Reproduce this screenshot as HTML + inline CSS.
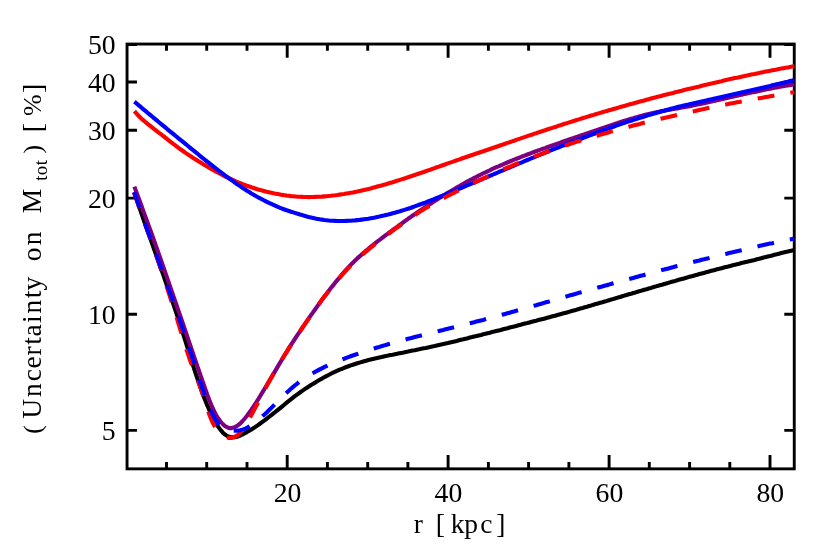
<!DOCTYPE html>
<html>
<head>
<meta charset="utf-8">
<title>Uncertainty on M_tot vs r</title>
<style>
html,body{margin:0;padding:0;background:#fff;}
body{width:830px;height:554px;overflow:hidden;font-family:"Liberation Serif",serif;}
svg{display:block;will-change:transform;}
text{font-family:"Liberation Serif",serif;fill:#000;}
</style>
</head>
<body>
<svg width="830" height="554" viewBox="0 0 830 554">
<rect x="0" y="0" width="830" height="554" fill="#ffffff"/>
<!-- frame + ticks -->
<g fill="none" stroke="#000" stroke-width="2.9" stroke-linecap="butt">
<rect x="127.05" y="44.05" width="667.2" height="424.8"/>
<path d="M166.5,468.9 v-6.8 M166.5,44.05 v6.8 M206.7,468.9 v-6.8 M206.7,44.05 v6.8 M247.0,468.9 v-6.8 M247.0,44.05 v6.8 M287.2,468.9 v-13.8 M287.2,44.05 v13.8 M327.4,468.9 v-6.8 M327.4,44.05 v6.8 M367.7,468.9 v-6.8 M367.7,44.05 v6.8 M407.9,468.9 v-6.8 M407.9,44.05 v6.8 M448.1,468.9 v-13.8 M448.1,44.05 v13.8 M488.4,468.9 v-6.8 M488.4,44.05 v6.8 M528.6,468.9 v-6.8 M528.6,44.05 v6.8 M568.9,468.9 v-6.8 M568.9,44.05 v6.8 M609.1,468.9 v-13.8 M609.1,44.05 v13.8 M649.3,468.9 v-6.8 M649.3,44.05 v6.8 M689.6,468.9 v-6.8 M689.6,44.05 v6.8 M729.8,468.9 v-6.8 M729.8,44.05 v6.8 M770.0,468.9 v-13.8 M770.0,44.05 v13.8 M127.05,430.4 h9.9 M794.2,430.4 h-9.9 M127.05,314.3 h9.9 M794.2,314.3 h-9.9 M127.05,198.1 h9.9 M794.2,198.1 h-9.9 M127.05,130.2 h9.9 M794.2,130.2 h-9.9 M127.05,82.0 h9.9 M794.2,82.0 h-9.9 M127.05,44.6 h9.9 M794.2,44.6 h-9.9"/>
</g>
<!-- curves -->
<g fill="none" stroke-width="4.1" stroke-linecap="butt" stroke-linejoin="round">
<path stroke="#000000" d="M134.4,192.3 L136.6,199.0 L138.8,205.6 L141.0,212.1 L143.2,218.5 L145.4,224.8 L147.6,231.1 L149.9,237.3 L152.1,243.5 L154.3,249.7 L156.5,255.9 L158.7,262.0 L160.9,268.2 L163.1,274.4 L165.3,280.7 L167.5,287.0 L169.7,293.3 L171.9,299.8 L174.1,306.3 L176.3,312.9 L178.5,319.7 L180.8,326.5 L183.0,333.5 L185.2,340.5 L187.4,347.5 L189.6,354.5 L191.8,361.5 L194.0,368.3 L196.2,375.0 L198.4,381.6 L200.6,387.9 L202.8,394.0 L205.0,399.8 L207.2,405.2 L209.5,410.4 L211.7,415.1 L213.9,419.5 L216.1,423.4 L218.3,426.9 L220.5,429.9 L222.7,432.4 L224.9,434.4 L227.1,435.9 L229.3,436.8 L231.5,437.3 L233.7,437.3 L235.9,437.0 L238.1,436.4 L240.4,435.5 L242.6,434.5 L244.8,433.3 L247.0,432.1 L249.2,430.8 L251.4,429.5 L253.6,428.1 L255.8,426.6 L258.0,425.1 L260.2,423.5 L262.4,421.9 L264.6,420.3 L266.8,418.6 L269.0,416.9 L271.3,415.2 L273.5,413.4 L275.7,411.7 L277.9,409.9 L280.1,408.1 L282.3,406.3 L284.5,404.5 L286.7,402.7 L288.9,400.9 L291.1,399.2 L293.3,397.4 L295.5,395.7 L297.7,394.1 L300.0,392.5 L302.2,390.9 L304.4,389.4 L306.6,387.9 L308.8,386.5 L311.0,385.1 L313.2,383.8 L315.4,382.4 L317.6,381.1 L319.8,379.8 L322.0,378.6 L324.2,377.3 L326.4,376.1 L328.6,375.0 L330.9,373.8 L333.1,372.7 L335.3,371.7 L337.5,370.7 L339.7,369.7 L341.9,368.8 L344.1,367.9 L346.3,367.0 L348.5,366.2 L350.7,365.4 L352.9,364.7 L355.1,364.0 L357.3,363.3 L359.6,362.6 L361.8,361.9 L364.0,361.3 L366.2,360.7 L368.4,360.1 L370.6,359.6 L372.8,359.0 L375.0,358.5 L377.2,358.0 L379.4,357.5 L381.6,357.0 L383.8,356.5 L386.0,356.0 L388.2,355.6 L390.5,355.1 L392.7,354.7 L394.9,354.2 L397.1,353.8 L399.3,353.3 L401.5,352.9 L403.7,352.5 L405.9,352.0 L408.1,351.6 L410.3,351.1 L412.5,350.6 L414.7,350.2 L416.9,349.7 L419.1,349.3 L421.4,348.8 L423.6,348.3 L425.8,347.9 L428.0,347.4 L430.2,346.9 L432.4,346.4 L434.6,346.0 L436.8,345.5 L439.0,345.0 L441.2,344.5 L443.4,344.0 L445.6,343.5 L447.8,343.0 L450.1,342.4 L452.3,341.9 L454.5,341.4 L456.7,340.9 L458.9,340.3 L461.1,339.8 L463.3,339.3 L465.5,338.7 L467.7,338.2 L469.9,337.6 L472.1,337.1 L474.3,336.5 L476.5,336.0 L478.7,335.4 L481.0,334.9 L483.2,334.3 L485.4,333.8 L487.6,333.2 L489.8,332.7 L492.0,332.1 L494.2,331.6 L496.4,331.0 L498.6,330.4 L500.8,329.9 L503.0,329.3 L505.2,328.7 L507.4,328.2 L509.7,327.6 L511.9,327.0 L514.1,326.5 L516.3,325.9 L518.5,325.3 L520.7,324.7 L522.9,324.1 L525.1,323.5 L527.3,323.0 L529.5,322.4 L531.7,321.8 L533.9,321.2 L536.1,320.7 L538.3,320.1 L540.6,319.5 L542.8,319.0 L545.0,318.4 L547.2,317.8 L549.4,317.2 L551.6,316.6 L553.8,316.0 L556.0,315.4 L558.2,314.8 L560.4,314.2 L562.6,313.6 L564.8,313.0 L567.0,312.4 L569.2,311.8 L571.5,311.1 L573.7,310.5 L575.9,309.9 L578.1,309.2 L580.3,308.6 L582.5,308.0 L584.7,307.3 L586.9,306.7 L589.1,306.0 L591.3,305.4 L593.5,304.7 L595.7,304.1 L597.9,303.5 L600.2,302.8 L602.4,302.2 L604.6,301.5 L606.8,300.9 L609.0,300.2 L611.2,299.6 L613.4,298.9 L615.6,298.3 L617.8,297.6 L620.0,297.0 L622.2,296.3 L624.4,295.6 L626.6,295.0 L628.8,294.3 L631.1,293.7 L633.3,293.0 L635.5,292.4 L637.7,291.7 L639.9,291.1 L642.1,290.4 L644.3,289.8 L646.5,289.2 L648.7,288.5 L650.9,287.9 L653.1,287.2 L655.3,286.6 L657.5,285.9 L659.8,285.3 L662.0,284.7 L664.2,284.0 L666.4,283.4 L668.6,282.8 L670.8,282.1 L673.0,281.5 L675.2,280.9 L677.4,280.2 L679.6,279.6 L681.8,279.0 L684.0,278.4 L686.2,277.8 L688.4,277.1 L690.7,276.5 L692.9,275.9 L695.1,275.3 L697.3,274.7 L699.5,274.1 L701.7,273.5 L703.9,272.9 L706.1,272.3 L708.3,271.7 L710.5,271.1 L712.7,270.5 L714.9,269.9 L717.1,269.3 L719.3,268.8 L721.6,268.2 L723.8,267.6 L726.0,267.0 L728.2,266.5 L730.4,265.9 L732.6,265.3 L734.8,264.8 L737.0,264.2 L739.2,263.7 L741.4,263.1 L743.6,262.6 L745.8,262.0 L748.0,261.5 L750.3,260.9 L752.5,260.4 L754.7,259.9 L756.9,259.3 L759.1,258.8 L761.3,258.2 L763.5,257.6 L765.7,257.1 L767.9,256.5 L770.1,256.0 L772.3,255.4 L774.5,254.8 L776.7,254.3 L778.9,253.7 L781.2,253.1 L783.4,252.6 L785.6,252.0 L787.8,251.5 L790.0,250.9 L792.2,250.4 L794.4,249.9"/>
<path stroke="#ff0000" d="M134.4,111.1 L136.6,113.6 L138.8,116.0 L141.0,118.2 L143.2,120.2 L145.4,122.0 L147.6,123.8 L149.9,125.6 L152.1,127.4 L154.3,129.2 L156.5,130.9 L158.7,132.6 L160.9,134.2 L163.1,135.9 L165.3,137.6 L167.5,139.4 L169.7,141.1 L171.9,142.8 L174.1,144.5 L176.3,146.2 L178.5,147.8 L180.8,149.5 L183.0,151.0 L185.2,152.6 L187.4,154.1 L189.6,155.6 L191.8,157.0 L194.0,158.4 L196.2,159.8 L198.4,161.2 L200.6,162.6 L202.8,163.9 L205.0,165.3 L207.2,166.6 L209.5,167.9 L211.7,169.1 L213.9,170.4 L216.1,171.6 L218.3,172.8 L220.5,174.0 L222.7,175.1 L224.9,176.3 L227.1,177.4 L229.3,178.4 L231.5,179.4 L233.7,180.4 L235.9,181.4 L238.1,182.3 L240.4,183.2 L242.6,184.1 L244.8,184.9 L247.0,185.8 L249.2,186.5 L251.4,187.3 L253.6,188.0 L255.8,188.7 L258.0,189.4 L260.2,190.0 L262.4,190.6 L264.6,191.2 L266.8,191.8 L269.0,192.3 L271.3,192.8 L273.5,193.3 L275.7,193.7 L277.9,194.1 L280.1,194.5 L282.3,194.9 L284.5,195.2 L286.7,195.6 L288.9,195.8 L291.1,196.1 L293.3,196.3 L295.5,196.5 L297.7,196.7 L300.0,196.8 L302.2,196.9 L304.4,197.0 L306.6,197.0 L308.8,197.1 L311.0,197.0 L313.2,197.0 L315.4,196.9 L317.6,196.8 L319.8,196.7 L322.0,196.6 L324.2,196.4 L326.4,196.2 L328.6,196.0 L330.9,195.8 L333.1,195.5 L335.3,195.3 L337.5,195.0 L339.7,194.6 L341.9,194.3 L344.1,194.0 L346.3,193.6 L348.5,193.2 L350.7,192.8 L352.9,192.4 L355.1,191.9 L357.3,191.5 L359.6,191.0 L361.8,190.5 L364.0,190.0 L366.2,189.5 L368.4,188.9 L370.6,188.4 L372.8,187.8 L375.0,187.2 L377.2,186.6 L379.4,186.0 L381.6,185.4 L383.8,184.8 L386.0,184.2 L388.2,183.5 L390.5,182.8 L392.7,182.2 L394.9,181.5 L397.1,180.8 L399.3,180.1 L401.5,179.4 L403.7,178.7 L405.9,178.0 L408.1,177.2 L410.3,176.5 L412.5,175.8 L414.7,175.0 L416.9,174.3 L419.1,173.5 L421.4,172.7 L423.6,172.0 L425.8,171.2 L428.0,170.4 L430.2,169.7 L432.4,168.9 L434.6,168.1 L436.8,167.3 L439.0,166.6 L441.2,165.8 L443.4,165.0 L445.6,164.2 L447.8,163.4 L450.1,162.6 L452.3,161.9 L454.5,161.1 L456.7,160.3 L458.9,159.6 L461.1,158.8 L463.3,158.0 L465.5,157.3 L467.7,156.5 L469.9,155.8 L472.1,155.0 L474.3,154.3 L476.5,153.5 L478.7,152.8 L481.0,152.0 L483.2,151.3 L485.4,150.5 L487.6,149.8 L489.8,149.0 L492.0,148.2 L494.2,147.5 L496.4,146.7 L498.6,146.0 L500.8,145.2 L503.0,144.5 L505.2,143.7 L507.4,142.9 L509.7,142.2 L511.9,141.4 L514.1,140.7 L516.3,139.9 L518.5,139.1 L520.7,138.4 L522.9,137.6 L525.1,136.9 L527.3,136.1 L529.5,135.4 L531.7,134.7 L533.9,133.9 L536.1,133.2 L538.3,132.4 L540.6,131.7 L542.8,131.0 L545.0,130.3 L547.2,129.5 L549.4,128.8 L551.6,128.1 L553.8,127.4 L556.0,126.7 L558.2,125.9 L560.4,125.2 L562.6,124.5 L564.8,123.8 L567.0,123.1 L569.2,122.4 L571.5,121.7 L573.7,121.0 L575.9,120.3 L578.1,119.6 L580.3,118.9 L582.5,118.2 L584.7,117.6 L586.9,116.9 L589.1,116.2 L591.3,115.5 L593.5,114.9 L595.7,114.2 L597.9,113.6 L600.2,112.9 L602.4,112.2 L604.6,111.6 L606.8,110.9 L609.0,110.3 L611.2,109.7 L613.4,109.0 L615.6,108.4 L617.8,107.8 L620.0,107.1 L622.2,106.5 L624.4,105.9 L626.6,105.3 L628.8,104.6 L631.1,104.0 L633.3,103.4 L635.5,102.8 L637.7,102.2 L639.9,101.6 L642.1,101.0 L644.3,100.4 L646.5,99.8 L648.7,99.2 L650.9,98.6 L653.1,98.0 L655.3,97.4 L657.5,96.8 L659.8,96.3 L662.0,95.7 L664.2,95.1 L666.4,94.6 L668.6,94.0 L670.8,93.4 L673.0,92.9 L675.2,92.3 L677.4,91.8 L679.6,91.2 L681.8,90.7 L684.0,90.1 L686.2,89.6 L688.4,89.0 L690.7,88.5 L692.9,88.0 L695.1,87.4 L697.3,86.9 L699.5,86.4 L701.7,85.8 L703.9,85.3 L706.1,84.8 L708.3,84.3 L710.5,83.7 L712.7,83.2 L714.9,82.7 L717.1,82.2 L719.3,81.7 L721.6,81.2 L723.8,80.6 L726.0,80.1 L728.2,79.6 L730.4,79.1 L732.6,78.6 L734.8,78.1 L737.0,77.7 L739.2,77.2 L741.4,76.7 L743.6,76.2 L745.8,75.7 L748.0,75.3 L750.3,74.8 L752.5,74.3 L754.7,73.9 L756.9,73.4 L759.1,73.0 L761.3,72.5 L763.5,72.1 L765.7,71.6 L767.9,71.2 L770.1,70.8 L772.3,70.3 L774.5,69.9 L776.7,69.5 L778.9,69.0 L781.2,68.6 L783.4,68.2 L785.6,67.8 L787.8,67.4 L790.0,67.0 L792.2,66.6 L794.4,66.2"/>
<path stroke="#7f007f" d="M134.4,186.6 L136.6,192.6 L138.8,198.5 L141.0,204.5 L143.2,210.6 L145.4,216.6 L147.6,222.7 L149.9,228.9 L152.1,235.0 L154.3,241.2 L156.5,247.4 L158.7,253.7 L160.9,259.9 L163.1,266.2 L165.3,272.6 L167.5,278.9 L169.7,285.3 L171.9,291.7 L174.1,298.1 L176.3,304.5 L178.5,310.9 L180.8,317.4 L183.0,323.9 L185.2,330.4 L187.4,336.9 L189.6,343.4 L191.8,349.9 L194.0,356.3 L196.2,362.8 L198.4,369.2 L200.6,375.6 L202.8,382.0 L205.0,388.3 L207.2,394.5 L209.5,400.4 L211.7,405.9 L213.9,410.8 L216.1,415.0 L218.3,418.5 L220.5,421.5 L222.7,424.0 L224.9,426.0 L227.1,427.3 L229.3,428.1 L231.5,428.1 L233.7,427.6 L235.9,426.6 L238.1,425.2 L240.4,423.3 L242.6,421.0 L244.8,418.5 L247.0,415.8 L249.2,412.8 L251.4,409.7 L253.6,406.4 L255.8,403.0 L258.0,399.6 L260.2,396.0 L262.4,392.4 L264.6,388.8 L266.8,385.1 L269.0,381.4 L271.3,377.6 L273.5,373.9 L275.7,370.1 L277.9,366.4 L280.1,362.6 L282.3,359.0 L284.5,355.3 L286.7,351.7 L288.9,348.2 L291.1,344.7 L293.3,341.3 L295.5,338.0 L297.7,334.6 L300.0,331.3 L302.2,328.0 L304.4,324.8 L306.6,321.6 L308.8,318.4 L311.0,315.2 L313.2,312.1 L315.4,309.0 L317.6,305.9 L319.8,302.8 L322.0,299.8 L324.2,296.8 L326.4,293.9 L328.6,291.0 L330.9,288.1 L333.1,285.4 L335.3,282.6 L337.5,279.9 L339.7,277.2 L341.9,274.6 L344.1,272.1 L346.3,269.6 L348.5,267.2 L350.7,264.9 L352.9,262.7 L355.1,260.5 L357.3,258.4 L359.6,256.4 L361.8,254.4 L364.0,252.5 L366.2,250.6 L368.4,248.8 L370.6,246.9 L372.8,245.2 L375.0,243.4 L377.2,241.7 L379.4,240.0 L381.6,238.3 L383.8,236.6 L386.0,235.0 L388.2,233.3 L390.5,231.7 L392.7,230.0 L394.9,228.4 L397.1,226.8 L399.3,225.2 L401.5,223.6 L403.7,222.0 L405.9,220.4 L408.1,218.8 L410.3,217.3 L412.5,215.7 L414.7,214.2 L416.9,212.7 L419.1,211.2 L421.4,209.7 L423.6,208.2 L425.8,206.8 L428.0,205.3 L430.2,203.9 L432.4,202.5 L434.6,201.1 L436.8,199.7 L439.0,198.3 L441.2,196.9 L443.4,195.5 L445.6,194.2 L447.8,192.8 L450.1,191.5 L452.3,190.2 L454.5,188.9 L456.7,187.6 L458.9,186.4 L461.1,185.1 L463.3,183.9 L465.5,182.6 L467.7,181.4 L469.9,180.2 L472.1,179.1 L474.3,177.9 L476.5,176.8 L478.7,175.6 L481.0,174.5 L483.2,173.4 L485.4,172.4 L487.6,171.3 L489.8,170.3 L492.0,169.2 L494.2,168.2 L496.4,167.2 L498.6,166.3 L500.8,165.3 L503.0,164.3 L505.2,163.4 L507.4,162.5 L509.7,161.5 L511.9,160.6 L514.1,159.7 L516.3,158.8 L518.5,158.0 L520.7,157.1 L522.9,156.2 L525.1,155.4 L527.3,154.5 L529.5,153.7 L531.7,152.9 L533.9,152.0 L536.1,151.2 L538.3,150.4 L540.6,149.6 L542.8,148.8 L545.0,148.1 L547.2,147.3 L549.4,146.5 L551.6,145.7 L553.8,144.9 L556.0,144.1 L558.2,143.4 L560.4,142.6 L562.6,141.8 L564.8,141.0 L567.0,140.3 L569.2,139.5 L571.5,138.7 L573.7,138.0 L575.9,137.2 L578.1,136.5 L580.3,135.7 L582.5,134.9 L584.7,134.2 L586.9,133.4 L589.1,132.7 L591.3,131.9 L593.5,131.2 L595.7,130.4 L597.9,129.7 L600.2,128.9 L602.4,128.1 L604.6,127.4 L606.8,126.6 L609.0,125.9 L611.2,125.2 L613.4,124.4 L615.6,123.7 L617.8,123.0 L620.0,122.2 L622.2,121.5 L624.4,120.8 L626.6,120.2 L628.8,119.5 L631.1,118.8 L633.3,118.2 L635.5,117.5 L637.7,116.9 L639.9,116.3 L642.1,115.7 L644.3,115.1 L646.5,114.5 L648.7,114.0 L650.9,113.5 L653.1,113.0 L655.3,112.5 L657.5,112.0 L659.8,111.6 L662.0,111.1 L664.2,110.7 L666.4,110.3 L668.6,109.9 L670.8,109.5 L673.0,109.1 L675.2,108.7 L677.4,108.4 L679.6,108.0 L681.8,107.6 L684.0,107.2 L686.2,106.8 L688.4,106.4 L690.7,106.0 L692.9,105.5 L695.1,105.1 L697.3,104.6 L699.5,104.2 L701.7,103.7 L703.9,103.2 L706.1,102.7 L708.3,102.2 L710.5,101.7 L712.7,101.2 L714.9,100.7 L717.1,100.2 L719.3,99.7 L721.6,99.2 L723.8,98.7 L726.0,98.2 L728.2,97.7 L730.4,97.2 L732.6,96.7 L734.8,96.2 L737.0,95.7 L739.2,95.2 L741.4,94.7 L743.6,94.2 L745.8,93.8 L748.0,93.3 L750.3,92.8 L752.5,92.3 L754.7,91.9 L756.9,91.4 L759.1,90.9 L761.3,90.5 L763.5,90.0 L765.7,89.5 L767.9,89.1 L770.1,88.7 L772.3,88.2 L774.5,87.8 L776.7,87.4 L778.9,87.0 L781.2,86.6 L783.4,86.2 L785.6,85.8 L787.8,85.5 L790.0,85.1 L792.2,84.8 L794.4,84.5"/>
<path stroke="#0000ff" d="M134.4,101.6 L136.6,103.5 L138.8,105.4 L141.0,107.2 L143.2,109.1 L145.4,110.9 L147.6,112.8 L149.9,114.6 L152.1,116.5 L154.3,118.3 L156.5,120.1 L158.7,122.0 L160.9,123.8 L163.1,125.6 L165.3,127.4 L167.5,129.3 L169.7,131.1 L171.9,132.9 L174.1,134.7 L176.3,136.5 L178.5,138.3 L180.8,140.1 L183.0,141.9 L185.2,143.7 L187.4,145.5 L189.6,147.3 L191.8,149.1 L194.0,150.9 L196.2,152.7 L198.4,154.5 L200.6,156.3 L202.8,158.1 L205.0,159.8 L207.2,161.6 L209.5,163.4 L211.7,165.1 L213.9,166.9 L216.1,168.6 L218.3,170.3 L220.5,172.0 L222.7,173.6 L224.9,175.3 L227.1,176.9 L229.3,178.5 L231.5,180.1 L233.7,181.7 L235.9,183.3 L238.1,184.9 L240.4,186.4 L242.6,187.9 L244.8,189.3 L247.0,190.8 L249.2,192.1 L251.4,193.5 L253.6,194.7 L255.8,196.0 L258.0,197.2 L260.2,198.4 L262.4,199.5 L264.6,200.7 L266.8,201.8 L269.0,202.9 L271.3,203.9 L273.5,204.9 L275.7,205.9 L277.9,206.9 L280.1,207.8 L282.3,208.7 L284.5,209.5 L286.7,210.3 L288.9,211.0 L291.1,211.7 L293.3,212.4 L295.5,213.1 L297.7,213.8 L300.0,214.5 L302.2,215.1 L304.4,215.8 L306.6,216.4 L308.8,217.0 L311.0,217.5 L313.2,218.0 L315.4,218.5 L317.6,218.9 L319.8,219.3 L322.0,219.6 L324.2,220.0 L326.4,220.2 L328.6,220.5 L330.9,220.7 L333.1,220.8 L335.3,220.9 L337.5,221.0 L339.7,221.0 L341.9,221.0 L344.1,221.0 L346.3,220.9 L348.5,220.8 L350.7,220.7 L352.9,220.5 L355.1,220.4 L357.3,220.1 L359.6,219.9 L361.8,219.6 L364.0,219.3 L366.2,219.0 L368.4,218.7 L370.6,218.3 L372.8,217.9 L375.0,217.5 L377.2,217.0 L379.4,216.6 L381.6,216.1 L383.8,215.6 L386.0,215.0 L388.2,214.5 L390.5,213.9 L392.7,213.3 L394.9,212.7 L397.1,212.1 L399.3,211.5 L401.5,210.8 L403.7,210.1 L405.9,209.4 L408.1,208.7 L410.3,208.0 L412.5,207.2 L414.7,206.4 L416.9,205.6 L419.1,204.8 L421.4,204.0 L423.6,203.2 L425.8,202.4 L428.0,201.5 L430.2,200.6 L432.4,199.8 L434.6,198.9 L436.8,198.0 L439.0,197.1 L441.2,196.2 L443.4,195.3 L445.6,194.4 L447.8,193.5 L450.1,192.6 L452.3,191.7 L454.5,190.8 L456.7,189.8 L458.9,188.9 L461.1,188.0 L463.3,187.1 L465.5,186.2 L467.7,185.2 L469.9,184.3 L472.1,183.4 L474.3,182.4 L476.5,181.5 L478.7,180.6 L481.0,179.7 L483.2,178.7 L485.4,177.8 L487.6,176.9 L489.8,175.9 L492.0,175.0 L494.2,174.0 L496.4,173.1 L498.6,172.2 L500.8,171.2 L503.0,170.3 L505.2,169.4 L507.4,168.4 L509.7,167.5 L511.9,166.5 L514.1,165.6 L516.3,164.7 L518.5,163.7 L520.7,162.8 L522.9,161.9 L525.1,160.9 L527.3,160.0 L529.5,159.1 L531.7,158.2 L533.9,157.3 L536.1,156.3 L538.3,155.4 L540.6,154.5 L542.8,153.6 L545.0,152.7 L547.2,151.8 L549.4,150.9 L551.6,150.1 L553.8,149.2 L556.0,148.3 L558.2,147.5 L560.4,146.6 L562.6,145.7 L564.8,144.9 L567.0,144.0 L569.2,143.2 L571.5,142.3 L573.7,141.5 L575.9,140.7 L578.1,139.8 L580.3,139.0 L582.5,138.2 L584.7,137.3 L586.9,136.5 L589.1,135.6 L591.3,134.8 L593.5,134.0 L595.7,133.2 L597.9,132.3 L600.2,131.5 L602.4,130.7 L604.6,129.9 L606.8,129.1 L609.0,128.3 L611.2,127.5 L613.4,126.7 L615.6,125.9 L617.8,125.1 L620.0,124.4 L622.2,123.6 L624.4,122.9 L626.6,122.1 L628.8,121.4 L631.1,120.7 L633.3,119.9 L635.5,119.2 L637.7,118.5 L639.9,117.8 L642.1,117.2 L644.3,116.5 L646.5,115.8 L648.7,115.1 L650.9,114.5 L653.1,113.8 L655.3,113.2 L657.5,112.5 L659.8,111.9 L662.0,111.3 L664.2,110.7 L666.4,110.0 L668.6,109.4 L670.8,108.8 L673.0,108.3 L675.2,107.7 L677.4,107.1 L679.6,106.5 L681.8,106.0 L684.0,105.4 L686.2,104.9 L688.4,104.5 L690.7,104.0 L692.9,103.5 L695.1,103.0 L697.3,102.5 L699.5,102.0 L701.7,101.5 L703.9,101.0 L706.1,100.5 L708.3,99.9 L710.5,99.4 L712.7,98.9 L714.9,98.4 L717.1,97.9 L719.3,97.4 L721.6,96.9 L723.8,96.4 L726.0,95.9 L728.2,95.4 L730.4,94.9 L732.6,94.4 L734.8,93.9 L737.0,93.4 L739.2,92.9 L741.4,92.4 L743.6,91.9 L745.8,91.4 L748.0,90.9 L750.3,90.4 L752.5,89.9 L754.7,89.4 L756.9,88.9 L759.1,88.4 L761.3,87.9 L763.5,87.4 L765.7,86.9 L767.9,86.4 L770.1,85.9 L772.3,85.3 L774.5,84.8 L776.7,84.3 L778.9,83.8 L781.2,83.2 L783.4,82.7 L785.6,82.2 L787.8,81.7 L790.0,81.1 L792.2,80.6 L794.4,80.0"/>
<path stroke="#ff0000" stroke-dasharray="16.9 16.2" stroke-dashoffset="0.4" d="M134.0,192.5 L136.2,198.8 L138.4,205.0 L140.6,211.2 L142.8,217.5 L145.0,223.7 L147.3,229.9 L149.5,236.2 L151.7,242.5 L153.9,248.8 L156.1,255.2 L158.3,261.6 L160.5,268.1 L162.7,274.6 L164.9,281.2 L167.1,287.9 L169.3,294.6 L171.5,301.5 L173.8,308.4 L176.0,315.4 L178.2,322.6 L180.4,329.8 L182.6,337.1 L184.8,344.2 L187.0,351.1 L189.2,357.7 L191.4,363.8 L193.6,369.6 L195.8,375.4 L198.1,381.2 L200.3,387.3 L202.5,393.8 L204.7,400.7 L206.9,407.5 L209.1,413.9 L211.3,419.6 L213.5,424.3 L215.7,428.1 L217.9,431.1 L220.1,433.4 L222.3,435.2 L224.6,436.4 L226.8,437.3 L229.0,437.9 L231.2,438.0 L233.4,437.5 L235.6,436.4 L237.8,434.8 L240.0,432.5 L242.2,429.8 L244.4,426.6 L246.6,423.2 L248.9,419.4 L251.1,415.5 L253.3,411.5 L255.5,407.4 L257.7,403.2 L259.9,399.0 L262.1,394.7 L264.3,390.5 L266.5,386.4 L268.7,382.3 L270.9,378.3 L273.1,374.4 L275.4,370.5 L277.6,366.8 L279.8,363.1 L282.0,359.4 L284.2,355.8 L286.4,352.3 L288.6,348.8 L290.8,345.3 L293.0,341.9 L295.2,338.5 L297.4,335.2 L299.7,331.8 L301.9,328.5 L304.1,325.2 L306.3,322.0 L308.5,318.8 L310.7,315.6 L312.9,312.5 L315.1,309.3 L317.3,306.2 L319.5,303.2 L321.7,300.1 L323.9,297.2 L326.2,294.3 L328.4,291.5 L330.6,288.8 L332.8,286.0 L335.0,283.4 L337.2,280.7 L339.4,278.1 L341.6,275.5 L343.8,273.0 L346.0,270.5 L348.2,268.2 L350.5,265.9 L352.7,263.6 L354.9,261.5 L357.1,259.4 L359.3,257.4 L361.5,255.4 L363.7,253.5 L365.9,251.6 L368.1,249.8 L370.3,248.0 L372.5,246.2 L374.7,244.4 L377.0,242.7 L379.2,240.9 L381.4,239.2 L383.6,237.5 L385.8,235.9 L388.0,234.2 L390.2,232.6 L392.4,230.9 L394.6,229.3 L396.8,227.7 L399.0,226.2 L401.3,224.6 L403.5,223.0 L405.7,221.5 L407.9,219.9 L410.1,218.4 L412.3,216.9 L414.5,215.4 L416.7,213.9 L418.9,212.4 L421.1,210.9 L423.3,209.5 L425.5,208.2 L427.8,206.9 L430.0,205.6 L432.2,204.3 L434.4,203.1 L436.6,201.9 L438.8,200.7 L441.0,199.5 L443.2,198.3 L445.4,197.2 L447.6,196.0 L449.8,194.9 L452.1,193.7 L454.3,192.6 L456.5,191.5 L458.7,190.4 L460.9,189.2 L463.1,188.1 L465.3,187.1 L467.5,186.0 L469.7,184.9 L471.9,183.8 L474.1,182.8 L476.3,181.7 L478.6,180.7 L480.8,179.6 L483.0,178.6 L485.2,177.6 L487.4,176.5 L489.6,175.5 L491.8,174.5 L494.0,173.5 L496.2,172.6 L498.4,171.6 L500.6,170.6 L502.9,169.6 L505.1,168.7 L507.3,167.7 L509.5,166.8 L511.7,165.9 L513.9,164.9 L516.1,164.0 L518.3,163.1 L520.5,162.2 L522.7,161.3 L524.9,160.4 L527.1,159.5 L529.4,158.7 L531.6,157.8 L533.8,157.0 L536.0,156.1 L538.2,155.3 L540.4,154.4 L542.6,153.6 L544.8,152.8 L547.0,152.0 L549.2,151.2 L551.4,150.3 L553.7,149.6 L555.9,148.8 L558.1,148.0 L560.3,147.2 L562.5,146.4 L564.7,145.7 L566.9,145.0 L569.1,144.2 L571.3,143.5 L573.5,142.8 L575.7,142.1 L577.9,141.4 L580.2,140.8 L582.4,140.1 L584.6,139.4 L586.8,138.8 L589.0,138.1 L591.2,137.5 L593.4,136.8 L595.6,136.2 L597.8,135.5 L600.0,134.8 L602.2,134.2 L604.5,133.5 L606.7,132.9 L608.9,132.3 L611.1,131.6 L613.3,131.0 L615.5,130.4 L617.7,129.8 L619.9,129.2 L622.1,128.6 L624.3,127.9 L626.5,127.4 L628.7,126.8 L631.0,126.2 L633.2,125.6 L635.4,125.0 L637.6,124.4 L639.8,123.9 L642.0,123.3 L644.2,122.7 L646.4,122.2 L648.6,121.6 L650.8,121.1 L653.0,120.6 L655.3,120.0 L657.5,119.5 L659.7,119.0 L661.9,118.4 L664.1,117.9 L666.3,117.4 L668.5,116.9 L670.7,116.4 L672.9,115.9 L675.1,115.4 L677.3,114.9 L679.5,114.4 L681.8,113.9 L684.0,113.4 L686.2,112.9 L688.4,112.4 L690.6,111.9 L692.8,111.4 L695.0,111.0 L697.2,110.5 L699.4,110.0 L701.6,109.5 L703.8,109.1 L706.1,108.6 L708.3,108.1 L710.5,107.7 L712.7,107.2 L714.9,106.7 L717.1,106.3 L719.3,105.8 L721.5,105.4 L723.7,104.9 L725.9,104.5 L728.1,104.1 L730.3,103.6 L732.6,103.2 L734.8,102.8 L737.0,102.3 L739.2,101.9 L741.4,101.5 L743.6,101.1 L745.8,100.7 L748.0,100.3 L750.2,99.9 L752.4,99.5 L754.6,99.1 L756.9,98.7 L759.1,98.3 L761.3,97.9 L763.5,97.5 L765.7,97.1 L767.9,96.7 L770.1,96.3 L772.3,95.9 L774.5,95.5 L776.7,95.1 L778.9,94.8 L781.1,94.4 L783.4,94.0 L785.6,93.6 L787.8,93.3 L790.0,92.9 L792.2,92.5 L794.4,92.1"/>
<path stroke="#0000ff" stroke-dasharray="16.9 16.2" stroke-dashoffset="0.5" d="M134.2,192.2 L136.4,198.6 L138.6,205.0 L140.8,211.4 L143.0,217.7 L145.2,224.0 L147.4,230.2 L149.7,236.4 L151.9,242.5 L154.1,248.7 L156.3,254.8 L158.5,260.9 L160.7,267.0 L162.9,273.1 L165.1,279.3 L167.3,285.4 L169.5,291.6 L171.7,297.7 L173.9,304.0 L176.2,310.2 L178.4,316.5 L180.6,322.9 L182.8,329.3 L185.0,335.7 L187.2,342.3 L189.4,348.9 L191.6,355.6 L193.8,362.3 L196.0,369.2 L198.2,376.0 L200.4,382.8 L202.6,389.4 L204.9,395.8 L207.1,401.8 L209.3,407.3 L211.5,412.4 L213.7,416.8 L215.9,420.5 L218.1,423.5 L220.3,425.9 L222.5,427.8 L224.7,429.1 L226.9,430.0 L229.1,430.5 L231.4,430.8 L233.6,430.7 L235.8,430.6 L238.0,430.5 L240.2,430.2 L242.4,429.7 L244.6,429.0 L246.8,427.9 L249.0,426.6 L251.2,425.3 L253.4,423.7 L255.6,422.0 L257.8,420.3 L260.1,418.4 L262.3,416.4 L264.5,414.4 L266.7,412.4 L268.9,410.3 L271.1,408.1 L273.3,405.9 L275.5,403.7 L277.7,401.5 L279.9,399.2 L282.1,397.0 L284.3,394.8 L286.6,392.7 L288.8,390.7 L291.0,388.8 L293.2,386.9 L295.4,385.0 L297.6,383.3 L299.8,381.6 L302.0,380.0 L304.2,378.5 L306.4,377.0 L308.6,375.6 L310.8,374.3 L313.1,373.0 L315.3,371.8 L317.5,370.6 L319.7,369.4 L321.9,368.3 L324.1,367.2 L326.3,366.2 L328.5,365.1 L330.7,364.2 L332.9,363.2 L335.1,362.3 L337.3,361.4 L339.5,360.5 L341.8,359.6 L344.0,358.8 L346.2,357.9 L348.4,357.1 L350.6,356.3 L352.8,355.5 L355.0,354.7 L357.2,354.0 L359.4,353.2 L361.6,352.5 L363.8,351.7 L366.0,351.0 L368.3,350.3 L370.5,349.6 L372.7,348.9 L374.9,348.2 L377.1,347.5 L379.3,346.9 L381.5,346.2 L383.7,345.6 L385.9,344.9 L388.1,344.3 L390.3,343.7 L392.5,343.0 L394.7,342.4 L397.0,341.8 L399.2,341.2 L401.4,340.6 L403.6,340.0 L405.8,339.4 L408.0,338.8 L410.2,338.3 L412.4,337.7 L414.6,337.1 L416.8,336.5 L419.0,336.0 L421.2,335.4 L423.5,334.8 L425.7,334.3 L427.9,333.7 L430.1,333.2 L432.3,332.6 L434.5,332.1 L436.7,331.5 L438.9,331.0 L441.1,330.4 L443.3,329.9 L445.5,329.3 L447.7,328.8 L449.9,328.2 L452.2,327.7 L454.4,327.2 L456.6,326.6 L458.8,326.1 L461.0,325.5 L463.2,325.0 L465.4,324.4 L467.6,323.8 L469.8,323.3 L472.0,322.7 L474.2,322.2 L476.4,321.6 L478.7,321.0 L480.9,320.4 L483.1,319.9 L485.3,319.3 L487.5,318.7 L489.7,318.1 L491.9,317.5 L494.1,316.9 L496.3,316.3 L498.5,315.7 L500.7,315.1 L502.9,314.5 L505.1,313.9 L507.4,313.3 L509.6,312.7 L511.8,312.0 L514.0,311.4 L516.2,310.8 L518.4,310.2 L520.6,309.6 L522.8,308.9 L525.0,308.3 L527.2,307.7 L529.4,307.1 L531.6,306.4 L533.9,305.8 L536.1,305.2 L538.3,304.5 L540.5,303.9 L542.7,303.3 L544.9,302.6 L547.1,302.0 L549.3,301.4 L551.5,300.7 L553.7,300.1 L555.9,299.4 L558.1,298.8 L560.3,298.2 L562.6,297.5 L564.8,296.9 L567.0,296.3 L569.2,295.6 L571.4,295.0 L573.6,294.4 L575.8,293.8 L578.0,293.1 L580.2,292.5 L582.4,291.9 L584.6,291.3 L586.8,290.7 L589.1,290.0 L591.3,289.4 L593.5,288.8 L595.7,288.2 L597.9,287.6 L600.1,287.0 L602.3,286.4 L604.5,285.8 L606.7,285.2 L608.9,284.6 L611.1,283.9 L613.3,283.3 L615.5,282.7 L617.8,282.1 L620.0,281.5 L622.2,280.9 L624.4,280.3 L626.6,279.7 L628.8,279.1 L631.0,278.5 L633.2,277.9 L635.4,277.3 L637.6,276.7 L639.8,276.1 L642.0,275.5 L644.3,274.9 L646.5,274.3 L648.7,273.7 L650.9,273.1 L653.1,272.5 L655.3,271.9 L657.5,271.3 L659.7,270.7 L661.9,270.1 L664.1,269.6 L666.3,269.0 L668.5,268.4 L670.8,267.8 L673.0,267.2 L675.2,266.6 L677.4,266.0 L679.6,265.5 L681.8,264.9 L684.0,264.3 L686.2,263.8 L688.4,263.2 L690.6,262.6 L692.8,262.1 L695.0,261.5 L697.2,260.9 L699.5,260.4 L701.7,259.8 L703.9,259.3 L706.1,258.7 L708.3,258.2 L710.5,257.6 L712.7,257.1 L714.9,256.5 L717.1,256.0 L719.3,255.5 L721.5,254.9 L723.7,254.4 L726.0,253.9 L728.2,253.3 L730.4,252.8 L732.6,252.3 L734.8,251.7 L737.0,251.2 L739.2,250.7 L741.4,250.2 L743.6,249.7 L745.8,249.2 L748.0,248.6 L750.2,248.1 L752.4,247.6 L754.7,247.1 L756.9,246.6 L759.1,246.1 L761.3,245.6 L763.5,245.1 L765.7,244.6 L767.9,244.1 L770.1,243.6 L772.3,243.2 L774.5,242.7 L776.7,242.2 L778.9,241.7 L781.2,241.2 L783.4,240.8 L785.6,240.3 L787.8,239.8 L790.0,239.4 L792.2,238.9 L794.4,238.4"/>
</g>
<!-- tick labels -->
<g font-size="27.7">
<text x="115.7" y="440.2" text-anchor="end">5</text>
<text x="115.7" y="324.1" text-anchor="end">10</text>
<text x="115.7" y="207.9" text-anchor="end">20</text>
<text x="115.7" y="140.0" text-anchor="end">30</text>
<text x="115.7" y="91.8" text-anchor="end">40</text>
<text x="115.7" y="54.4" text-anchor="end">50</text>
<text x="287.5" y="502.3" text-anchor="middle">20</text>
<text x="448.4" y="502.3" text-anchor="middle">40</text>
<text x="609.4" y="502.3" text-anchor="middle">60</text>
<text x="770.3" y="502.3" text-anchor="middle">80</text>
</g>
<!-- x axis label -->
<g font-size="27.5">
<text y="533.4" x="413.82 435.70 450.66 464.24 480.15 496.19">r[kpc]</text>
</g>
<!-- y axis label -->
<g transform="translate(41.3,0) rotate(-90)">
<text font-size="25.6" x="-433.71" y="-0.7">(</text>
<text font-size="27.5" x="-418.68" y="0.0">U</text>
<text font-size="27.5" x="-396.98" y="0.0">n</text>
<text font-size="27.5" x="-381.35" y="0.0">c</text>
<text font-size="27.5" x="-368.56" y="0.0">e</text>
<text font-size="27.5" x="-355.48" y="0.0">r</text>
<text font-size="27.5" x="-344.87" y="0.0">t</text>
<text font-size="27.5" x="-336.50" y="0.0">a</text>
<text font-size="27.5" x="-323.05" y="0.0">i</text>
<text font-size="27.5" x="-313.48" y="0.0">n</text>
<text font-size="27.5" x="-298.17" y="0.0">t</text>
<text font-size="27.5" x="-290.44" y="0.0">y</text>
<text font-size="27.5" x="-261.18" y="0.0">o</text>
<text font-size="27.5" x="-245.23" y="0.0">n</text>
<text font-size="27.5" x="-213.37" y="0.0">M</text>
<text font-size="25.6" x="-153.51" y="-0.7">)</text>
<text font-size="28.0" x="-132.25" y="0.6">[</text>
<text font-size="26.0" x="-115.93" y="0.0">%</text>
<text font-size="28.0" x="-92.98" y="0.6">]</text>
<text font-size="19.0" x="-180.78" y="5.3">t</text>
<text font-size="19.0" x="-175.25" y="5.3">o</text>
<text font-size="19.0" x="-165.23" y="5.3">t</text>
</g>
</svg>
</body>
</html>
